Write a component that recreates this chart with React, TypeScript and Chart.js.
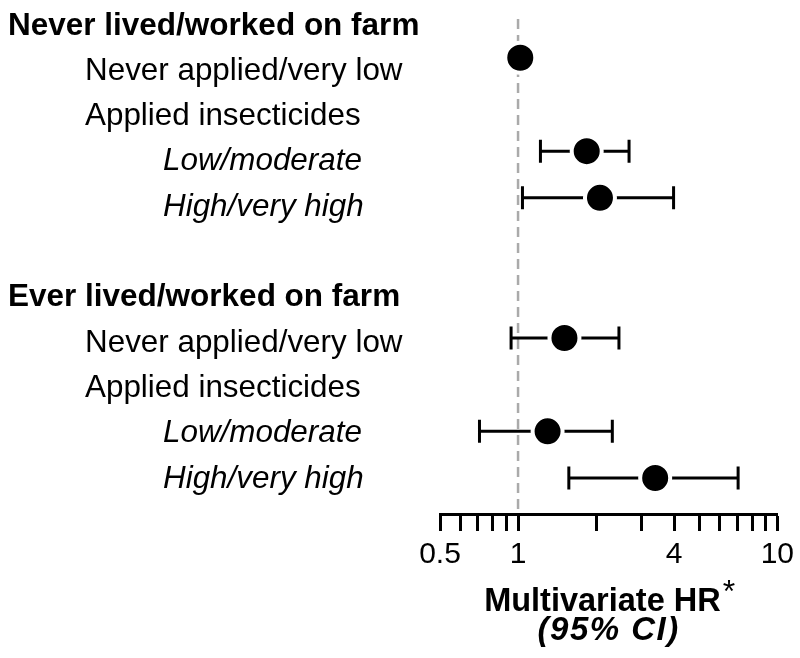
import { useEffect, useRef } from "react";
import { Chart, registerables } from "chart.js";

Chart.register(...registerables);

// ---- data ----
const rowLabels = [
  "Never lived/worked on farm",
  "Never applied/very low",
  "Applied insecticides",
  "Low/moderate",
  "High/very high",
  "",
  "Ever lived/worked on farm",
  "Never applied/very low",
  "Applied insecticides",
  "Low/moderate",
  "High/very high",
];
const rowKinds = ["group", "item", "item", "sub", "sub", "blank", "group", "item", "item", "sub", "sub"];
const hrValues: (number | null)[] = [null, 1.02, null, 1.84, 2.07, null, null, 1.51, null, 1.3, 3.38];
const ciLower: (number | null)[] = [null, null, null, 1.22, 1.04, null, null, 0.94, null, 0.71, 1.57];
const ciUpper: (number | null)[] = [null, null, null, 2.68, 3.98, null, null, 2.45, null, 2.31, 7.06];

const tickValues = [0.5, 0.6, 0.7, 0.8, 0.9, 1, 2, 3, 4, 5, 6, 7, 8, 9, 10];
const labeledTicks = [0.5, 1, 4, 10];
const tickLabels = ["0.5", "1", "4", "10"];
const referenceHR = 1;
const axisTitle = "Multivariate HR";
const axisTitleMark = "*";
const axisSubtitle = "(95% CI)";

const FAMILY = '"Liberation Sans", Arial, Helvetica, sans-serif';
const FS = 31.4;

const kindStyle: Record<string, { indent: number; font: string }> = {
  group: { indent: 8, font: `bold 31.5px ${FAMILY}` },
  item: { indent: 85, font: `${FS}px ${FAMILY}` },
  sub: { indent: 163, font: `italic ${FS}px ${FAMILY}` },
  blank: { indent: 0, font: `${FS}px ${FAMILY}` },
};

const forestPlugin = {
  id: "forest",
  beforeDatasetsDraw(chart: any) {
    const { ctx, chartArea, scales } = chart;
    const x = scales.x;
    const y = scales.y;
    ctx.save();
    // reference line
    const rx = x.getPixelForValue(referenceHR);
    ctx.strokeStyle = "#aaaaaa";
    ctx.lineWidth = 2.5;
    ctx.setLineDash([10, 6]);
    ctx.beginPath();
    ctx.moveTo(rx, chartArea.top);
    ctx.lineTo(rx, chartArea.bottom - 2);
    ctx.stroke();
    ctx.setLineDash([]);
    // error bars
    ctx.strokeStyle = "#000";
    ctx.lineWidth = 3;
    ctx.lineCap = "butt";
    rowLabels.forEach((_, i) => {
      const lo = ciLower[i];
      const hi = ciUpper[i];
      if (lo == null || hi == null) return;
      const py = y.getPixelForValue(i);
      const x1 = x.getPixelForValue(lo);
      const x2 = x.getPixelForValue(hi);
      ctx.beginPath();
      ctx.moveTo(x1, py);
      ctx.lineTo(x2, py);
      ctx.moveTo(x1, py - 11.5);
      ctx.lineTo(x1, py + 11.5);
      ctx.moveTo(x2, py - 11.5);
      ctx.lineTo(x2, py + 11.5);
      ctx.stroke();
    });
    ctx.restore();
  },
  afterDraw(chart: any) {
    const { ctx, chartArea, scales } = chart;
    const yl = scales.yl;
    ctx.save();
    ctx.fillStyle = "#000";
    ctx.textBaseline = "alphabetic";
    ctx.textAlign = "left";
    rowLabels.forEach((lab, i) => {
      if (!lab) return;
      const st = kindStyle[rowKinds[i]];
      ctx.font = st.font;
      ctx.fillText(lab, st.indent, yl.getPixelForValue(i));
    });
    // axis title
    const cx = (chartArea.left + chartArea.right) / 2;
    const titleFont = `bold 32.5px ${FAMILY}`;
    const markFont = `32px ${FAMILY}`;
    ctx.font = titleFont;
    const w1 = ctx.measureText(axisTitle).width;
    ctx.font = markFont;
    const w2 = ctx.measureText(axisTitleMark).width;
    const start = cx - (w1 + w2) / 2;
    ctx.font = titleFont;
    ctx.fillText(axisTitle, start, chartArea.bottom + 97);
    ctx.font = markFont;
    ctx.fillText(axisTitleMark, start + w1 + 2, chartArea.bottom + 88);
    ctx.font = `italic bold 33px ${FAMILY}`;
    try {
      (ctx as any).letterSpacing = "1.5px";
    } catch (e) {}
    ctx.textAlign = "center";
    ctx.fillText(axisSubtitle, cx, chartArea.bottom + 126);
    ctx.restore();
  },
};

export default function App() {
  const ref = useRef<HTMLCanvasElement | null>(null);
  useEffect(() => {
    if (!ref.current) return;
    const points = hrValues
      .map((v, i) => (v == null ? null : { x: v, y: i }))
      .filter((p) => p !== null);
    const chart = new Chart(ref.current, {
      type: "scatter",
      data: {
        datasets: [
          {
            data: points as any,
            yAxisID: "y",
            xAxisID: "x",
            pointRadius: 15,
            pointHoverRadius: 15,
            pointBackgroundColor: "#000",
            pointBorderColor: "#fff",
            pointBorderWidth: 4,
          },
        ],
      },
      options: {
        animation: false,
        responsive: false,
        events: [],
        layout: { padding: { left: 440, right: 22, top: 16, bottom: 79 } },
        plugins: { legend: { display: false }, tooltip: { enabled: false } },
        scales: {
          x: {
            type: "logarithmic",
            position: "bottom",
            min: 0.5,
            max: 10,
            afterBuildTicks: (ax: any) => {
              ax.ticks = tickValues.map((v) => ({ value: v }));
            },
            ticks: {
              autoSkip: false,
              maxRotation: 0,
              minRotation: 0,
              padding: 6,
              color: "#000",
              font: { family: FAMILY, size: 30 },
              callback: (v: any) => {
                const k = labeledTicks.indexOf(Number(v));
                return k >= 0 ? tickLabels[k] : "";
              },
            },
            grid: {
              drawOnChartArea: false,
              drawTicks: true,
              tickLength: 17,
              tickWidth: 3,
              tickColor: "#000",
            },
            border: { display: true, color: "#000", width: 3 },
          },
          y: { type: "linear", reverse: true, min: 0.17, max: 10.77, display: false },
          yl: { type: "linear", reverse: true, min: -0.344, max: 10.585, display: false },
        },
      },
      plugins: [forestPlugin],
    });
    return () => chart.destroy();
  }, []);
  return (
    <div style={{ position: "absolute", left: 0, top: 0, width: 800, height: 658, background: "#fff" }}>
      <canvas ref={ref} width={800} height={658} style={{ width: 800, height: 658 }} />
    </div>
  );
}
